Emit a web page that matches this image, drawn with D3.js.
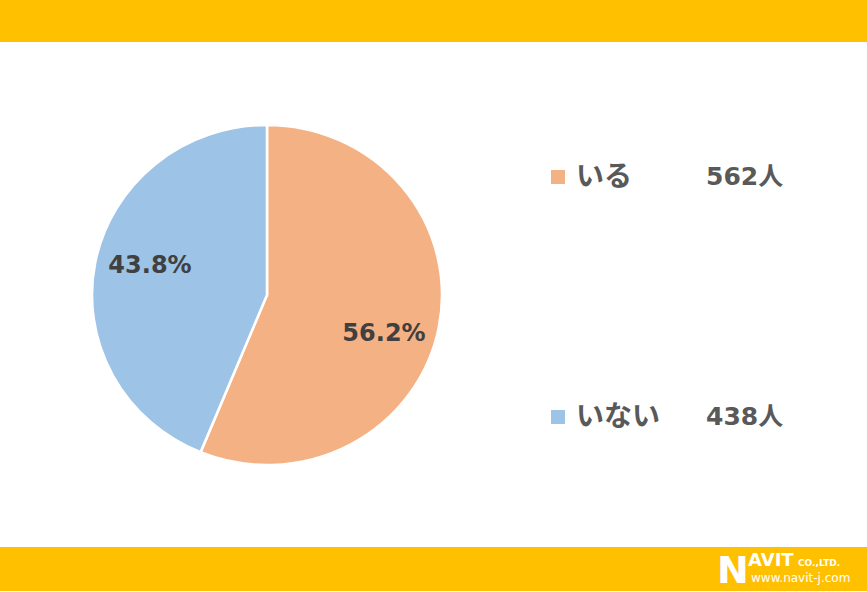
<!DOCTYPE html>
<html>
<head>
<meta charset="utf-8">
<script src="https://cdn.jsdelivr.net/npm/d3@7"></script>
<style>
  body { margin: 0; background: #fff; }
  text { font-family: "DejaVu Sans", "Noto Sans CJK JP", sans-serif; }
</style>
</head>
<body>
<div id="chart"></div>
<script>
// data
const categories = ["いる", "いない"];
const counts = [562, 438];
const percents = [56.2, 43.8];
const colors = ["#F4B183", "#9DC3E6"];

const width = 867, height = 592;

const svg = d3.select("#chart")
    .append("svg")
    .attr("width", width)
    .attr("height", height);

// header / footer bars
svg.append("rect").attr("x", 0).attr("y", 0).attr("width", width).attr("height", 42).attr("fill", "#FFC000");
svg.append("rect").attr("x", 0).attr("y", 547).attr("width", width).attr("height", 44).attr("fill", "#FFC000");

// pie
const radius = 170;
const pieG = svg.append("g")
    .attr("transform", "translate(267,295) scale(" + (175 / 170) + ",1)");

const pie = d3.pie().sort(null).value(d => d)(counts);
const arc = d3.arc().innerRadius(0).outerRadius(radius);

pieG.selectAll("path")
    .data(pie)
    .enter()
    .append("path")
    .attr("d", arc)
    .attr("fill", (d, i) => colors[i])
    .attr("stroke", "#fff")
    .attr("stroke-width", 2.5);

// percentage labels
const labelPos = [[384, 333], [150, 265]];
svg.selectAll(".pct")
    .data(percents)
    .enter()
    .append("text")
    .attr("class", "pct")
    .attr("x", (d, i) => labelPos[i][0])
    .attr("y", (d, i) => labelPos[i][1])
    .attr("text-anchor", "middle")
    .attr("dominant-baseline", "central")
    .attr("font-size", 24)
    .attr("font-weight", "bold")
    .attr("fill", "#404040")
    .text(d => d.toFixed(1) + "%");

// legend
const legendY = d3.scalePoint().domain(categories).range([185, 425]);
const legend = svg.selectAll(".legend")
    .data(categories)
    .enter()
    .append("g")
    .attr("class", "legend")
    .attr("transform", d => "translate(0," + legendY(d) + ")");

legend.append("rect")
    .attr("x", 551)
    .attr("y", -15)
    .attr("width", 14)
    .attr("height", 14)
    .attr("fill", (d, i) => colors[i]);

legend.append("text")
    .attr("x", 576)
    .attr("y", 1)
    .attr("font-size", 28)
    .attr("font-weight", "bold")
    .attr("fill", "#595959")
    .text(d => d);

legend.append("text")
    .attr("x", 706)
    .attr("y", 0)
    .attr("font-size", 25)
    .attr("font-weight", "bold")
    .attr("fill", "#595959")
    .text((d, i) => counts[i] + "人");

// logo
const logo = svg.append("g").attr("fill", "#fff").style("font-family", "'Liberation Sans', Arial, sans-serif").attr("font-weight", "bold");
logo.append("text").attr("x", 717).attr("y", 583).attr("font-size", 38).text("N");
logo.append("text").attr("x", 748).attr("y", 566).attr("font-size", 18).text("AVIT");
logo.append("text").attr("x", 798).attr("y", 566).attr("font-size", 9).text("CO.,LTD.");
logo.append("text").attr("x", 751).attr("y", 582).attr("font-size", 12).attr("font-weight", "normal").text("www.navit-j.com");
</script>
</body>
</html>
